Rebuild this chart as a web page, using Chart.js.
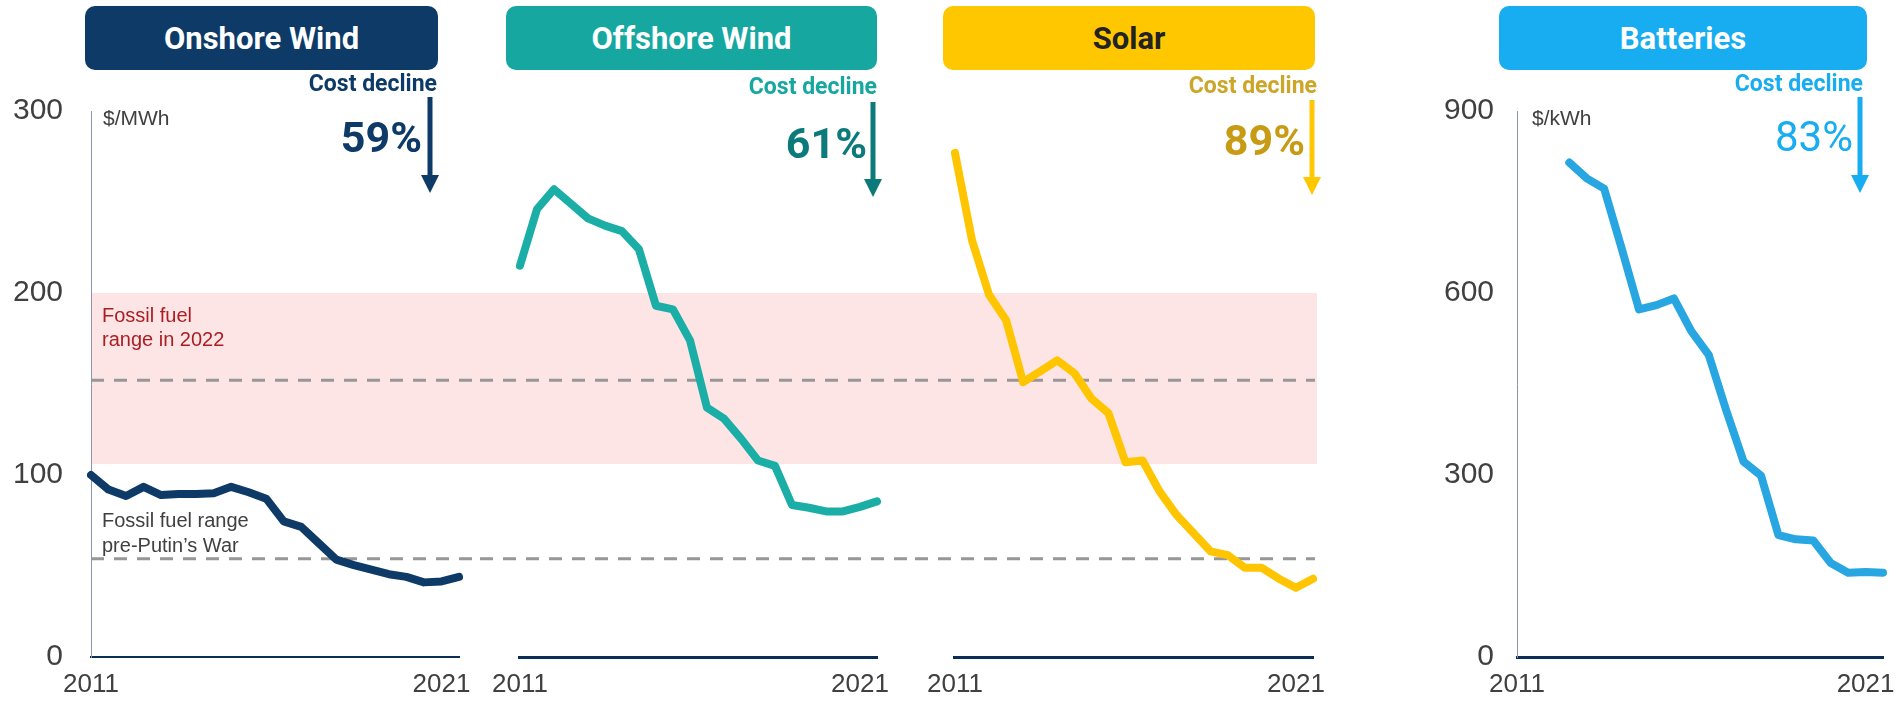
<!DOCTYPE html>
<html>
<head>
<meta charset="utf-8">
<script src="https://cdn.jsdelivr.net/npm/chart.js@4.4.1/dist/chart.umd.min.js"></script>
<style>
  body { margin: 0; background: #fff; width: 1901px; height: 704px; position: relative; overflow: hidden; }
  canvas { position: absolute; top: 0; }
  .box { position: absolute; top: 6px; height: 64px; border-radius: 10px; color: #fff;
         font: bold 31px Roboto, sans-serif; display: flex; align-items: center; justify-content: center; }
  .decl { position: absolute; font: bold 23px/1 Roboto, sans-serif; white-space: nowrap; }
  .pct { position: absolute; font: bold 43px/1 Roboto, sans-serif; white-space: nowrap; }
  .note { position: absolute; font: 20px/24px 'Liberation Sans', Arial, sans-serif; white-space: nowrap; }
  .unit { position: absolute; font: 21px/1 'Liberation Sans', Arial, sans-serif; color: #404040; }
  svg { position: absolute; top: 0; left: 0; pointer-events: none; }
</style>
</head>
<body>
<canvas id="onshore" width="480" height="704" style="left:0px"></canvas>
<canvas id="offshore" width="435" height="704" style="left:480px"></canvas>
<canvas id="solar" width="430" height="704" style="left:915px"></canvas>
<canvas id="batteries" width="481" height="704" style="left:1420px"></canvas>

<div class="box" style="left:85px;width:353px;background:rgb(13,58,102)">Onshore Wind</div>
<div class="box" style="left:506px;width:371px;background:rgb(22,168,160)">Offshore Wind</div>
<div class="box" style="left:943px;width:372px;background:rgb(255,199,0);color:#222">Solar</div>
<div class="box" style="left:1499px;width:368px;background:rgb(24,172,240)">Batteries</div>

<div class="decl" style="right:1464px;top:72px;color:rgb(13,58,102)">Cost decline</div>
<div class="decl" style="right:1024px;top:75px;color:rgb(22,168,160)">Cost decline</div>
<div class="decl" style="right:584px;top:74px;color:rgb(205,165,40)">Cost decline</div>
<div class="decl" style="right:38px;top:72px;color:rgb(24,172,240)">Cost decline</div>

<div class="pct" style="right:1479px;top:116px;color:rgb(13,58,102)">59%</div>
<div class="pct" style="right:1034px;top:122px;color:rgb(12,122,122)">61%</div>
<div class="pct" style="right:596px;top:119px;color:rgb(200,155,20)">89%</div>
<div class="pct" style="right:48px;top:116px;color:rgb(24,172,240);font-weight:normal;font-size:42px">83%</div>

<div class="unit" style="left:103px;top:107px">$/MWh</div>
<div class="unit" style="left:1532px;top:107px">$/kWh</div>

<div class="note" style="left:102px;top:303px;color:rgb(170,30,35)">Fossil fuel<br>range in 2022</div>
<div class="note" style="left:102px;top:508px;line-height:25px;color:#404040">Fossil fuel range<br>pre-Putin’s War</div>

<svg width="1901" height="704">
  <g stroke-width="5">
    <line x1="430" y1="97" x2="430" y2="178" stroke="rgb(13,58,102)"/>
    <polygon points="421,175 439,175 430,193" fill="rgb(13,58,102)"/>
    <line x1="873" y1="102" x2="873" y2="182" stroke="rgb(12,122,122)"/>
    <polygon points="864,179 882,179 873,197" fill="rgb(12,122,122)"/>
    <line x1="1312" y1="100" x2="1312" y2="180" stroke="rgb(255,199,0)"/>
    <polygon points="1303,177 1321,177 1312,195" fill="rgb(255,199,0)"/>
    <line x1="1860" y1="97" x2="1860" y2="178" stroke="rgb(24,172,240)"/>
    <polygon points="1851,175 1869,175 1860,193" fill="rgb(24,172,240)"/>
  </g>
</svg>

<script>
// half-yearly periods, 2011 to 2021
const PERIODS = [
  '2011 H1', '2011 H2', '2012 H1', '2012 H2', '2013 H1', '2013 H2', '2014 H1', '2014 H2',
  '2015 H1', '2015 H2', '2016 H1', '2016 H2', '2017 H1', '2017 H2', '2018 H1', '2018 H2',
  '2019 H1', '2019 H2', '2020 H1', '2020 H2', '2021 H1', '2021 H2'
];
const X_TICKS = ['2011', '2021'];

// $/MWh
const ONSHORE = [100, 92, 88.5, 93.5, 89, 89.5, 89.5, 90, 93.5, 90.5, 87, 74.5, 71.5, 62.5,
  53.5, 50.5, 48, 45.5, 44, 41, 41.5, 44];
const OFFSHORE = [215, 246, 257, 249, 241, 237, 234, 224, 193, 191, 174, 137, 131, 120,
  108, 105, 83.5, 82, 80, 80, 82.5, 85.5];
const SOLAR = [277, 229, 199, 185, 151, 157, 163, 156, 142, 134, 107, 108, 91, 78,
  68, 58, 56, 49, 49, 43, 38, 43];
// $/kWh
const BATTERIES = [null, null, null, 815, 789, 772, 674, 573, 580, 591, 537, 498, 407, 322,
  299, 201, 194, 192, 155, 139, 140, 139];

const LCOE_TICKS = [0, 100, 200, 300];
const BATTERY_TICKS = [0, 300, 600, 900];

const FOSSIL_2022 = [106, 200];     // shaded range
const FOSSIL_LINES = [152, 54];     // dashed reference lines

const fossilPlugin = {
  id: 'fossil',
  beforeDraw(chart, args, o) {
    if (!o || !o.show) return;
    const { ctx, chartArea, scales: { y } } = chart;
    const x0 = o.fromAxis ? chartArea.left : 0;
    const x1 = o.toAxis ? chartArea.right + 4 : chart.width;
    const yTop = y.getPixelForValue(FOSSIL_2022[1]);
    const yBot = y.getPixelForValue(FOSSIL_2022[0]);
    ctx.save();
    ctx.fillStyle = 'rgb(253,229,229)';
    ctx.fillRect(x0, yTop, x1 - x0, yBot - yTop);
    ctx.strokeStyle = '#979797';
    ctx.lineWidth = 3;
    ctx.setLineDash([13, 10]);
    FOSSIL_LINES.forEach(v => {
      const py = y.getPixelForValue(v);
      ctx.beginPath();
      ctx.moveTo(x0, py);
      ctx.lineTo(x1 - 2, py);
      ctx.stroke();
    });
    ctx.restore();
  }
};

function xTick(v, i) {
  const p = PERIODS[i];
  const yr = p.slice(0, 4);
  return p.endsWith('H1') && X_TICKS.includes(yr) ? yr : '';
}

function makeChart(id, values, color, o) {
  return new Chart(document.getElementById(id), {
    type: 'line',
    data: {
      labels: PERIODS,
      datasets: [{
        data: values,
        borderColor: color,
        borderWidth: 8,
        pointRadius: 0,
        tension: 0,
        borderJoinStyle: 'round',
        borderCapStyle: 'round'
      }]
    },
    options: {
      responsive: false,
      animation: false,
      events: [],
      layout: { autoPadding: false, padding: { left: o.padLeft, right: o.padRight, top: 111, bottom: 0 } },
      plugins: { legend: { display: false }, tooltip: { enabled: false }, fossil: o.fossil },
      scales: {
        x: {
          grid: { display: false, drawTicks: false },
          border: { display: true, color: 'rgb(12,45,85)', width: o.xLine },
          ticks: {
            autoSkip: false, maxRotation: 0, padding: 12, color: '#404040',
            font: { family: 'Liberation Sans', size: 26 },
            callback: xTick
          },
          afterFit: s => { s.height = 47; }
        },
        y: {
          display: o.yAxis,
          min: 0,
          max: o.ticks[o.ticks.length - 1],
          afterBuildTicks: s => { s.ticks = o.ticks.map(v => ({ value: v })); },
          grid: { display: false, drawTicks: false },
          border: { display: true, color: '#8796a8', width: 1 },
          ticks: { padding: o.tickPad, color: '#404040', font: { family: 'Liberation Sans', size: 30 } },
          afterFit: s => { s.width = o.yWidth; }
        }
      }
    },
    plugins: [fossilPlugin]
  });
}

makeChart('onshore', ONSHORE, 'rgb(13,58,102)', {
  padLeft: 0, padRight: 21, yAxis: true, yWidth: 91, tickPad: 28, ticks: LCOE_TICKS, xLine: 2,
  fossil: { show: true, fromAxis: true, toAxis: false }
});
makeChart('offshore', OFFSHORE, 'rgb(26,174,166)', {
  padLeft: 28, padRight: 38, yAxis: false, yWidth: 0, tickPad: 0, ticks: LCOE_TICKS, xLine: 3,
  fossil: { show: true, fromAxis: false, toAxis: false }
});
makeChart('solar', SOLAR, 'rgb(255,197,0)', {
  padLeft: 28, padRight: 32, yAxis: false, yWidth: 0, tickPad: 0, ticks: LCOE_TICKS, xLine: 3,
  fossil: { show: true, fromAxis: false, toAxis: true }
});
makeChart('batteries', BATTERIES, 'rgb(40,166,226)', {
  padLeft: 0, padRight: 18, yAxis: true, yWidth: 97, tickPad: 23, ticks: BATTERY_TICKS, xLine: 3,
  fossil: { show: false }
});
</script>
</body>
</html>
